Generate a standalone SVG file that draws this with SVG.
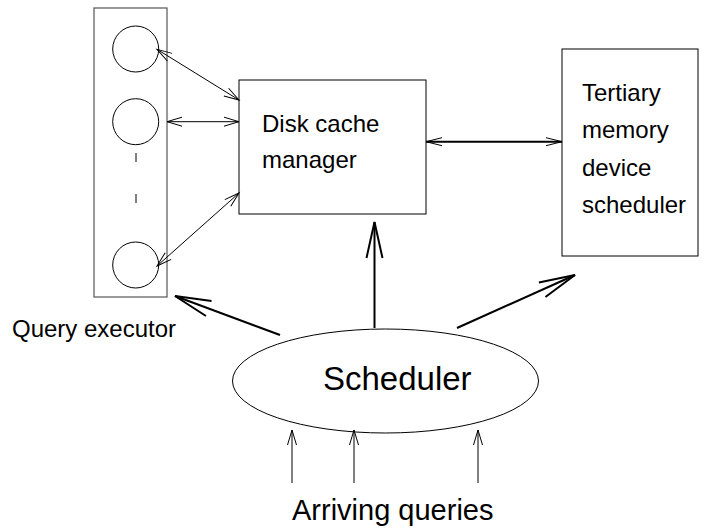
<svg xmlns="http://www.w3.org/2000/svg" width="707" height="531" viewBox="0 0 707 531">
<style>
text { font-family: "Liberation Sans", Arial, Helvetica, sans-serif; fill: #000; }
.box { fill: #fff; stroke: #000; stroke-width: 1; }
.qbox { fill: none; stroke: #555; stroke-width: 1.2; }
.thin { stroke: #000; stroke-width: 1; fill: none; }
.mid { stroke: #000; stroke-width: 2; fill: none; }
.thick { stroke: #000; stroke-width: 2; fill: none; }
.lbl { font-size: 24px; }
</style>
<defs>
<marker id="ah" markerUnits="userSpaceOnUse" viewBox="-20 -10 22 20" markerWidth="22" markerHeight="20" refX="0" refY="0" orient="auto-start-reverse" overflow="visible">
<path d="M-15,-4.5 L0,0 L-15,4.5" fill="none" stroke="#000" stroke-width="1"/>
</marker>
<marker id="ahMid" markerUnits="userSpaceOnUse" viewBox="-20 -10 22 20" markerWidth="22" markerHeight="20" refX="0" refY="0" orient="auto-start-reverse" overflow="visible">
<path d="M-16,-4 L0,0 L-16,4" fill="none" stroke="#000" stroke-width="1"/>
</marker>
<marker id="ahBig" markerUnits="userSpaceOnUse" viewBox="-40 -12 42 24" markerWidth="42" markerHeight="24" refX="0" refY="0" orient="auto" overflow="visible">
<path d="M-36,-8 L0,0 L-36,8" fill="none" stroke="#000" stroke-width="2"/>
</marker>
</defs>

<g id="query-executor">
<rect class="qbox" x="94" y="8" width="73" height="289"/>
<circle class="thin" cx="135.7" cy="49" r="23"/>
<circle class="thin" cx="135.7" cy="121.7" r="23"/>
<line class="thin" x1="136" y1="153" x2="136" y2="162"/>
<line class="thin" x1="136" y1="194" x2="136" y2="203"/>
<circle class="thin" cx="135.7" cy="265" r="23"/>
<text class="lbl" x="12" y="337">Query executor</text>
</g>

<g id="disk-cache-manager">
<rect class="box" x="239" y="80" width="187" height="134"/>
<text class="lbl" x="262" y="132">Disk cache</text>
<text class="lbl" x="262" y="168">manager</text>
</g>

<g id="tertiary-scheduler">
<rect class="box" x="562" y="49" width="136" height="207"/>
<text class="lbl" x="582" y="101">Tertiary</text>
<text class="lbl" x="582" y="138">memory</text>
<text class="lbl" x="582" y="176">device</text>
<text class="lbl" x="582" y="213">scheduler</text>
</g>

<g id="scheduler">
<ellipse class="thin" cx="385.5" cy="381" rx="153" ry="52"/>
<text x="323" y="390" font-size="33">Scheduler</text>
</g>

<g id="arriving-queries">
<text x="292" y="520" font-size="29">Arriving queries</text>
</g>

<g id="connectors">
<line class="thin" x1="157" y1="49.3" x2="239" y2="100" marker-start="url(#ah)" marker-end="url(#ah)"/>
<line class="thin" x1="167" y1="121.7" x2="239" y2="121.7" marker-start="url(#ah)" marker-end="url(#ah)"/>
<line class="thin" x1="157" y1="266" x2="239" y2="193" marker-start="url(#ah)" marker-end="url(#ah)"/>
<line class="mid" x1="426" y1="141.7" x2="562" y2="141.7" marker-start="url(#ahMid)" marker-end="url(#ahMid)"/>
<line class="thick" x1="280" y1="335" x2="175" y2="296" marker-end="url(#ahBig)"/>
<line class="thick" x1="374.5" y1="328" x2="374.5" y2="222" marker-end="url(#ahBig)"/>
<line class="thick" x1="457" y1="328" x2="575" y2="275" marker-end="url(#ahBig)"/>
<line class="thin" x1="292" y1="483" x2="292" y2="430" marker-end="url(#ah)"/>
<line class="thin" x1="354" y1="483" x2="354" y2="430" marker-end="url(#ah)"/>
<line class="thin" x1="478" y1="483" x2="478" y2="430" marker-end="url(#ah)"/>
</g>
</svg>
